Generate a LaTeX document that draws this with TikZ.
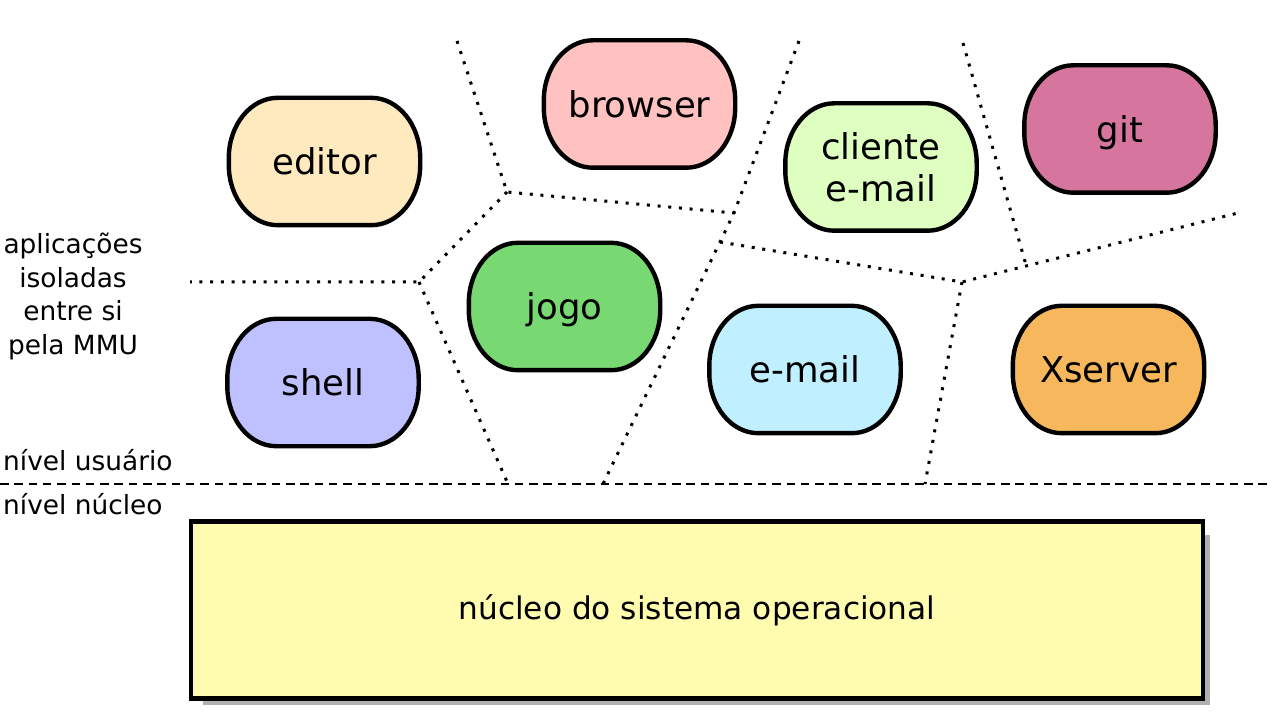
\documentclass[tikz,border=0pt]{standalone}
\usepackage{fontspec}
\setmainfont{DejaVu Sans}
\definecolor{cEditor}{HTML}{FFE9BF}
\definecolor{cBrowser}{HTML}{FFC2C0}
\definecolor{cCliente}{HTML}{DFFFC0}
\definecolor{cGit}{HTML}{D6759E}
\definecolor{cJogo}{HTML}{78D872}
\definecolor{cShell}{HTML}{BFC0FF}
\definecolor{cEmail}{HTML}{C0F0FF}
\definecolor{cX}{HTML}{F7B75C}
\definecolor{cKernel}{HTML}{FFFCB0}
\definecolor{cShadow}{HTML}{B0B0B0}
\pgfdeclarelayer{bg}
\pgfsetlayers{bg,main}
\tikzset{
  app/.style={minimum width=191pt, minimum height=127pt, inner sep=0pt,
    text depth=0pt, align=center, font=\fontsize{35.5}{42}\selectfont},
  pillborder/.style={draw=black, line width=4.4pt, line join=round},
  border/.style={line width=3pt, dash pattern=on 3pt off 7.7pt},
  levelline/.style={line width=2.9pt, dash pattern=on 8.5pt off 5.8pt},
  lbl/.style={inner sep=0pt, font=\fontsize{26.4}{33.7}\selectfont},
  kernelbox/.style={draw=black, line width=4.6pt, fill=cKernel,
    minimum width=1012pt, minimum height=177pt, inner sep=0pt,
    font=\fontsize{31.2}{36}\selectfont}
}
\newcommand\pillshape[2]{%
  \path[pillborder, fill=#2]
    ([xshift=49pt]#1.north west) -- ([xshift=-49pt]#1.north east)
    .. controls +(27pt,0pt) and +(0pt,33pt) .. ([yshift=-60pt]#1.north east)
    -- ([yshift=60pt]#1.south east)
    .. controls +(0pt,-33pt) and +(27pt,0pt) .. ([xshift=-49pt]#1.south east)
    -- ([xshift=49pt]#1.south west)
    .. controls +(-27pt,0pt) and +(0pt,-33pt) .. ([yshift=60pt]#1.south west)
    -- ([yshift=-60pt]#1.north west)
    .. controls +(0pt,33pt) and +(-27pt,0pt) .. ([xshift=49pt]#1.north west)
    -- cycle;}
\begin{document}
\begin{tikzpicture}[x=1pt,y=-1pt]
\useasboundingbox (0,0) rectangle (1278,719);
% region borders
\coordinate (A) at (457,41);
\coordinate (B) at (507,192);
\coordinate (C) at (419,282);
\coordinate (D) at (190,282);
\coordinate (E) at (508,484);
\coordinate (F) at (799,41);
\coordinate (P) at (734,213);
\coordinate (Q) at (720,242);
\coordinate (G) at (603,484);
\coordinate (J) at (962,282);
\coordinate (K) at (925,484);
\coordinate (L) at (1238,213);
\coordinate (M) at (963,43);
\coordinate (N) at (1026,265);
\draw[border] (A) -- (B) -- (P);
\draw[border] (B) -- (C) -- (D);
\draw[border] (C) -- (E);
\draw[border] (F) -- (P) -- (Q) -- (G);
\draw[border] (Q) -- (J) -- (L);
\draw[border] (J) -- (K);
\draw[border] (M) -- (N);
% level line
\coordinate (W0) at (0,484);
\coordinate (W1) at (1268,484);
\draw[levelline] (W0) -- (W1);
% apps
\node[app] (editor)  at (324.5,161.5) {editor};
\node[app] (browser) at (639.5,104)   {browser};
\node[app] (cliente) at (881,167)     {cliente\\e-mail};
\node[app] (git)     at (1120,129)    {git};
\node[app] (jogo)    at (564.5,306.5) {jogo};
\node[app] (shell)   at (323,382.5)   {shell};
\node[app] (email)   at (805,369.5)   {e-mail};
\node[app] (xserver) at (1108.5,369.5){Xserver};
\begin{pgfonlayer}{bg}
\pillshape{editor}{cEditor}
\pillshape{browser}{cBrowser}
\pillshape{cliente}{cCliente}
\pillshape{git}{cGit}
\pillshape{jogo}{cJogo}
\pillshape{shell}{cShell}
\pillshape{email}{cEmail}
\pillshape{xserver}{cX}
\end{pgfonlayer}
% labels
\node[lbl, align=center] (iso) at (73,296.5) {aplicações\\isoladas\\entre si\\pela MMU};
\node[lbl, anchor=base west] (usr) at (3,470) {nível usuário};
\node[lbl, anchor=base west] (nuc) at (3,514) {nível núcleo};
% kernel
\fill[cShadow] (203,535) rectangle (1210,705);
\node[kernelbox] (kernel) at (697,610) {núcleo do sistema operacional};
\end{tikzpicture}
\end{document}
